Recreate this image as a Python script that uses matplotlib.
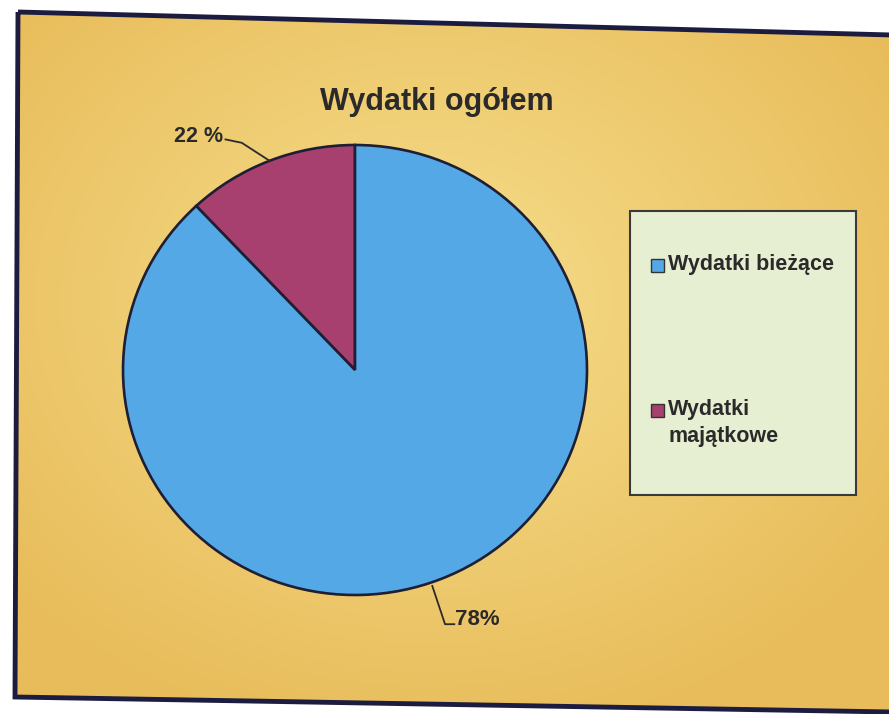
import numpy as np
import matplotlib
matplotlib.use("Agg")
import matplotlib.pyplot as plt
from matplotlib.patches import Polygon, Rectangle
from matplotlib.lines import Line2D

# ---- data (slice sizes as drawn; label texts as printed) ----
categories = ["Wydatki bieżące", "Wydatki\nmajątkowe"]
slice_values = [88, 12]          # visual share of the drawn wedges
slice_labels = ["78%", "22 %"]   # texts printed on the chart
title = "Wydatki ogółem"

colors = ["#55A8E6", "#A8406F"]

plt.rcParams['font.family'] = ['Liberation Sans', 'DejaVu Sans']

W, H = 889, 714
fig = plt.figure(figsize=(W / 100, H / 100), dpi=100)
fig.patch.set_facecolor("white")

# background (chart area) in pixel coords
bg = fig.add_axes([0, 0, 1, 1])
bg.set_xlim(0, W)
bg.set_ylim(H, 0)
bg.axis("off")

yy, xx = np.mgrid[0:H, 0:W]
d = np.sqrt(((xx - 430) / 560.0) ** 2 + ((yy - 300) / 450.0) ** 2)
t = np.clip(d, 0, 1)[..., None]
light = np.array([246, 222, 140]) / 255.0
dark = np.array([232, 188, 90]) / 255.0
img = light * (1 - t) + dark * t
im = bg.imshow(img, extent=(0, W, H, 0), zorder=0, interpolation="bilinear")
frame_pts = [(18, 12), (892, 35), (892, 712), (15, 697)]
clip = Polygon(frame_pts, closed=True, transform=bg.transData, fc="none", ec="none")
bg.add_patch(clip)
im.set_clip_path(clip)
bg.add_patch(Polygon(frame_pts, closed=True, fc="none", ec="#1c1c40", lw=3.5, zorder=5))

# legend box
bg.add_patch(Rectangle((630, 211), 226, 284, fc="#E6EFD2", ec="#3a3a3a", lw=1.5, zorder=2))

# pie axes
cx, cy, rx, ry = 355, 370, 232, 225
ax = fig.add_axes([(cx - rx) / W, (H - cy - ry) / H, 2 * rx / W, 2 * ry / H])
ax.patch.set_alpha(0)
wedges, _ = ax.pie(slice_values[::-1], colors=colors[::-1], startangle=90,
                   counterclock=True,
                   wedgeprops=dict(edgecolor="#1e1e34", linewidth=1.9))
ax.set_xlim(-1, 1)
ax.set_ylim(-1, 1)
ax.set_aspect("auto")
ax.axis("off")

# labels with leader lines, anchored at wedge middle angles
w_maj, w_bie = wedges
def mid(w):
    return np.deg2rad((w.theta1 + w.theta2) / 2.0)

a = mid(w_maj)
px, py = np.cos(a), np.sin(a)
ax.add_line(Line2D([px, px - 0.12, px - 0.19], [py, py + 0.08, py + 0.095],
                   color="#2a2a2a", lw=1.3, clip_on=False))
ax.text(px - 0.2, py + 0.11, slice_labels[1], ha="right", va="center",
        fontsize=15.5, fontweight="bold", color="#2a2a2a", clip_on=False)

a = mid(w_bie)
px, py = np.cos(a), np.sin(a)
ax.add_line(Line2D([px - 0.035, px + 0.02, px + 0.06], [py - 0.03, py - 0.2, py - 0.2],
                   color="#2a2a2a", lw=1.3, clip_on=False))
ax.text(px + 0.065, py - 0.18, slice_labels[0], ha="left", va="center",
        fontsize=16, fontweight="bold", color="#2a2a2a", clip_on=False)

# title
fig.text(437 / W, 1 - 102 / H, title, ha="center", va="center",
         fontsize=22, fontweight="bold", color="#2a2a2a")

# legend (drawn by hand so the swatch sits on the first text line)
entry_y = [265, 410]
for i, lab in enumerate(categories):
    y0 = entry_y[i]
    bg.add_patch(Rectangle((651, y0 - 6.5), 13, 13, fc=colors[i], ec="#333333",
                           lw=1.0, zorder=3))
    bg.text(668, y0 - 11, lab, ha="left", va="top", fontsize=15.5,
            fontweight="bold", color="#2a2a2a", zorder=3, linespacing=1.35)

fig.savefig("out.png", dpi=100)
